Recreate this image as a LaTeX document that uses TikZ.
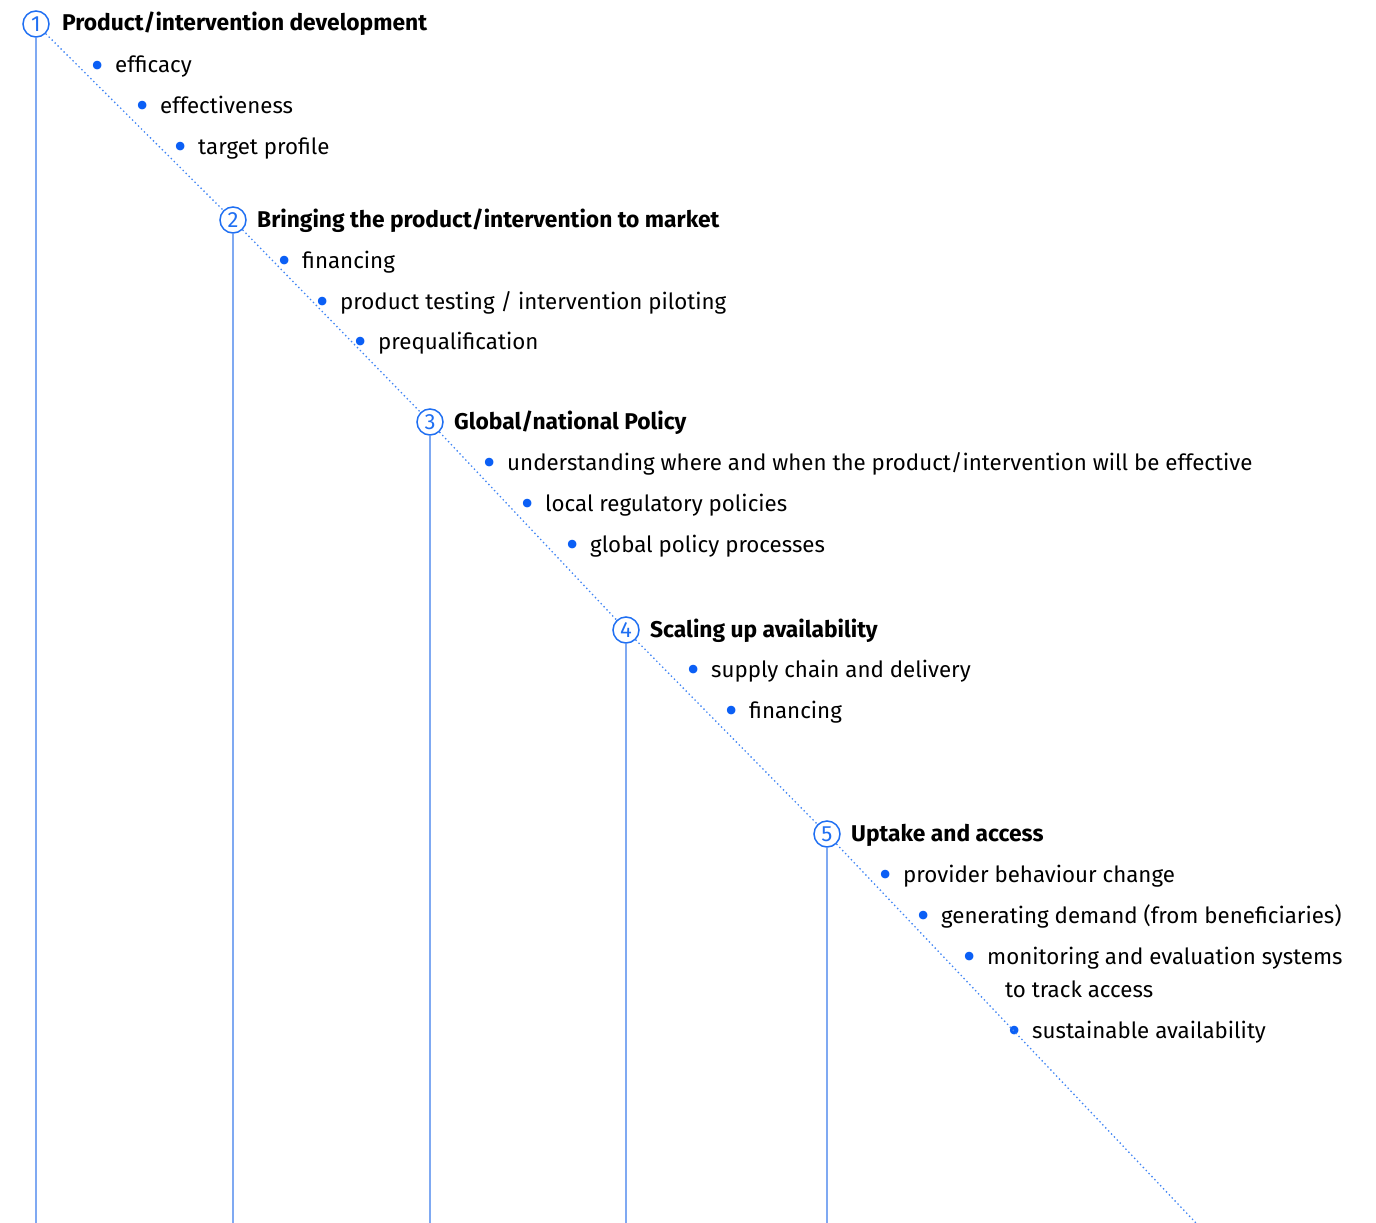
\documentclass[tikz,border=0pt]{standalone}
\usepackage{fontspec}
\setmainfont{Fira Sans}
\usetikzlibrary{positioning}
\definecolor{stageblue}{HTML}{1F6FF2}
\definecolor{stemblue}{HTML}{7FA9F2}
\definecolor{dotblue}{HTML}{0B5FF5}
\tikzset{
  x=1pt, y=-1pt,
  num/.style={circle, draw=stageblue, line width=1.5pt, minimum size=26pt, inner sep=0pt,
              text=stageblue, font=\fontsize{22}{22}\selectfont},
  head/.style={anchor=base west, inner sep=0pt, font=\fontsize{22.8}{24}\selectfont\bfseries},
  itm/.style={anchor=base west, inner sep=0pt, align=left, font=\fontsize{22.3}{33}\selectfont},
  stem/.style={draw=stemblue, line width=1.2pt},
  diag/.style={draw=stageblue!85, line width=1.3pt, dash pattern=on 1.4pt off 2.8pt},
}
\newcommand{\bul}{\llap{\textcolor{dotblue}{\raisebox{-5.5pt}{\scalebox{1.7}{\textbullet}}}\hspace{11pt}}}

\begin{document}
\begin{tikzpicture}
  \useasboundingbox (0,0) rectangle (1376,1223);
  \coordinate (bot) at (0,1223);
  \coordinate (diagend) at (1196,1223);

  % stage 1
  \node[num] (c1) at (36,24) {1};
  \node[head] (h1) at (62,31) {Product/intervention development};
  \node[itm] (i11) at (115,73) {\bul efficacy};
  \node[itm] (i12) at (160,113) {\bul effectiveness};
  \node[itm] (i13) at (198,154) {\bul target profile};

  % stage 2
  \node[num] (c2) at (233,220) {2};
  \node[head] (h2) at (257,227) {Bringing the product/intervention to market};
  \node[itm] (i21) at (302,268) {\bul financing};
  \node[itm] (i22) at (340,309) {\bul product testing / intervention piloting};
  \node[itm] (i23) at (378,349) {\bul prequalification};

  % stage 3
  \node[num] (c3) at (430,422) {3};
  \node[head] (h3) at (454,429) {Global/national Policy};
  \node[itm] (i31) at (507,470) {\bul understanding where and when the product/intervention will be effective};
  \node[itm] (i32) at (545,511) {\bul local regulatory policies};
  \node[itm] (i33) at (590,552) {\bul global policy processes};

  % stage 4
  \node[num] (c4) at (626,630) {4};
  \node[head] (h4) at (650,637) {Scaling up availability};
  \node[itm] (i41) at (711,677) {\bul supply chain and delivery};
  \node[itm] (i42) at (749,718) {\bul financing};

  % stage 5 (base of a two-line node is its last line)
  \node[num] (c5) at (827,834) {5};
  \node[head] (h5) at (851,841) {Uptake and access};
  \node[itm] (i51) at (903,882) {\bul provider behaviour change};
  \node[itm] (i52) at (941,923) {\bul generating demand (from beneficiaries)};
  \node[itm] (i53) at (987,997) {\bul monitoring and evaluation systems\\\hspace*{18pt}to track access};
  \node[itm] (i54) at (1032,1038) {\bul sustainable availability};

  % stems and diagonal
  \foreach \c in {c1,c2,c3,c4,c5}
    \draw[stem] (\c.south) -- (\c.south |- bot);
  \draw[diag] (c1) -- (c2) -- (c3) -- (c4) -- (c5) -- (diagend);
\end{tikzpicture}
\end{document}
